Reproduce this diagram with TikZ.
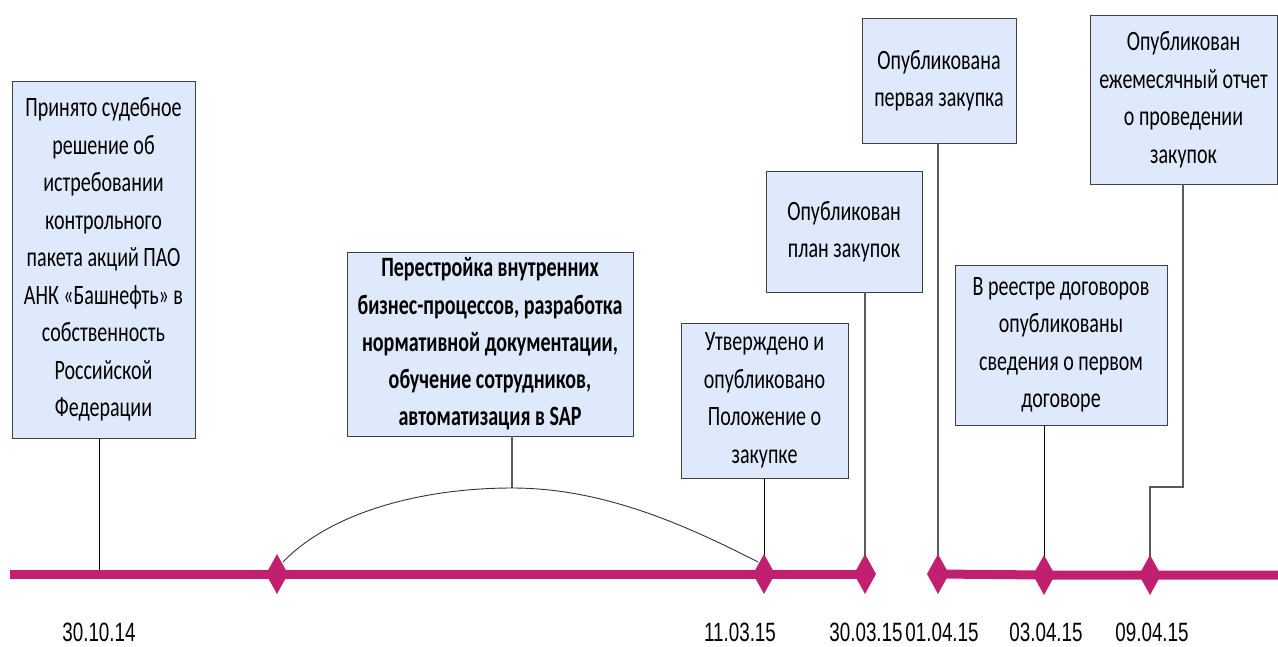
\documentclass[tikz,border=0pt]{standalone}
\usepackage{fontspec}
\setmainfont[FakeStretch=0.715]{Carlito}
\newfontfamily\datefont[FakeStretch=0.71]{Liberation Sans}
\definecolor{tl}{RGB}{193,31,112}
\definecolor{boxfill}{RGB}{222,233,251}
\definecolor{conn}{RGB}{90,90,90}
\begin{document}
\begin{tikzpicture}[x=1pt,y=-1pt,
  evbox/.style={draw=black!75, fill=boxfill, line width=0.9pt, align=center, inner sep=0pt,
     font=\fontsize{28}{37.5}\selectfont},
  datelbl/.style={font=\datefont\fontsize{26.5}{26.5}\selectfont, inner sep=0pt},
  link/.style={draw=conn, line width=1.1pt}]
\useasboundingbox (0,0) rectangle (1278,646);

% boxes
\node[evbox, minimum width=183pt, minimum height=357pt] (b1) at (103.5,259.5)
  {Принято судебное\\решение об\\истребовании\\контрольного\\пакета акций ПАО\\АНК «Башнефть» в\\собственность\\Российской\\Федерации};
\node[evbox, minimum width=286pt, minimum height=184pt, font=\bfseries\fontsize{28}{37.2}\selectfont] (b2) at (490,344)
  {Перестройка внутренних\\бизнес-процессов, разработка\\нормативной документации,\\обучение сотрудников,\\автоматизация в SAP};
\node[evbox, minimum width=167pt, minimum height=155pt] (b3) at (764.5,400.5)
  {Утверждено и\\опубликовано\\Положение о\\закупке};
\node[evbox, minimum width=156pt, minimum height=121pt] (b4) at (844,231.5)
  {Опубликован\\план закупок};
\node[evbox, minimum width=154pt, minimum height=125pt] (b5) at (939,80.5)
  {Опубликована\\первая закупка};
\node[evbox, minimum width=212pt, minimum height=160pt] (b6) at (1061,345)
  {В реестре договоров\\опубликованы\\сведения о первом\\договоре};
\node[evbox, minimum width=187pt, minimum height=169pt] (b7) at (1183.5,99.5)
  {Опубликован\\ежемесячный отчет\\о проведении\\закупок};

% timeline points
\coordinate (t0) at (10,574);
\coordinate (t1) at (99,574);
\coordinate (tend) at (1278,575);
\coordinate (ctop) at (512,488);
\coordinate (bend1) at (1183,487);
\coordinate (d1) at (277,574);
\coordinate (d2) at (764,574);
\coordinate (d3) at (865,574);
\coordinate (d4) at (938,574);
\coordinate (d5) at (1044,575);
\coordinate (d6) at (1150,575);
\coordinate (c1) at (283,562);
\coordinate (c2) at (758,562);

% connectors
\draw[draw=black, line width=1pt] (b1.south -| t1) -- (t1);
\draw[link] (b2.south -| ctop) -- (ctop);
\draw[draw=black!80, line width=0.9pt] (c1) .. controls (330,513) and (420,488) .. (ctop)
   .. controls (600,488) and (680,522) .. (c2);
\draw[draw=black, line width=1pt] (b3.south -| d2) -- (d2);
\draw[link] (b4.south -| d3) -- (d3);
\draw[link] (b5.south -| d4) -- (d4);
\draw[draw=black, line width=1pt] (b6.south -| d5) -- (d5);
\draw[link] (b7.south -| bend1) -- (bend1) -- (bend1 -| d6) -- (d6);

% timeline
\draw[tl, line width=9pt] (t0) -- (d3);
\draw[tl, line width=9pt] (d4) -- (d5) -- (tend);
\foreach \p in {d1,d2,d3,d4,d5,d6}
  \fill[tl] ([xshift=-11pt]\p) -- ([yshift=20pt]\p) -- ([xshift=11pt]\p) -- ([yshift=-20pt]\p) -- cycle;

% dates
\node[datelbl] (l1) at (99,632) {30.10.14};
\node[datelbl] (l2) at (740,632) {11.03.15};
\node[datelbl] (l3) at (866,632) {30.03.15};
\node[datelbl] (l4) at (942,632) {01.04.15};
\node[datelbl] (l5) at (1046,632) {03.04.15};
\node[datelbl] (l6) at (1152,632) {09.04.15};
\end{tikzpicture}
\end{document}
